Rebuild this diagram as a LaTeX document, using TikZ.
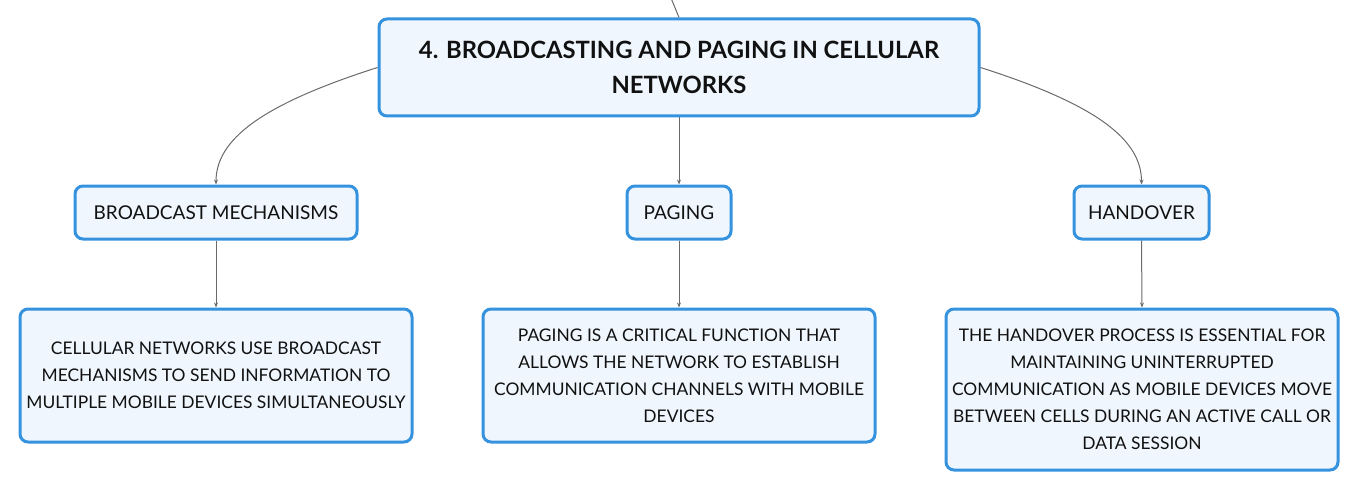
\documentclass[tikz,border=0pt]{standalone}
\usepackage{fontspec}
\setmainfont{Lato}
\usetikzlibrary{arrows.meta}
\definecolor{boxblue}{HTML}{3592DE}
\definecolor{boxfill}{HTML}{EFF6FD}
\definecolor{linkgray}{HTML}{6A6A6A}
\definecolor{txt}{HTML}{111111}
\tikzset{
  box/.style={draw=boxblue, line width=3pt, fill=boxfill, rounded corners=8pt,
    align=center, text=txt, inner sep=0pt, font=\fontsize{17.4}{27}\selectfont},
  midbox/.style={box, font=\fontsize{19}{27}\selectfont},
  rootbox/.style={box, font=\fontsize{23.8}{35}\selectfont\bfseries},
  link/.style={draw=linkgray, line width=1pt},
  arrowlink/.style={link, -{Stealth[length=5pt,width=4pt]}}
}
\begin{document}
\begin{tikzpicture}[x=1pt,y=-1pt]
\useasboundingbox (0,0) rectangle (1359,492);
\node[rootbox, minimum width=600pt, minimum height=97pt] (root) at (679,67.5)
  {4. BROADCASTING AND PAGING IN CELLULAR\\NETWORKS};
\node[midbox, minimum width=282pt, minimum height=53pt] (bm) at (216,212.5) {BROADCAST MECHANISMS};
\node[midbox, minimum width=104pt, minimum height=53pt] (pg) at (679,212.5) {PAGING};
\node[midbox, minimum width=135pt, minimum height=53pt] (ho) at (1141.5,212.5) {HANDOVER};
\node[box, minimum width=392pt, minimum height=133pt] (l1) at (216,375.5)
  {CELLULAR NETWORKS USE BROADCAST\\MECHANISMS TO SEND INFORMATION TO\\MULTIPLE MOBILE DEVICES SIMULTANEOUSLY};
\node[box, minimum width=392pt, minimum height=133pt] (l2) at (679,375.5)
  {PAGING IS A CRITICAL FUNCTION THAT\\ALLOWS THE NETWORK TO ESTABLISH\\COMMUNICATION CHANNELS WITH MOBILE\\DEVICES};
\node[box, minimum width=392pt, minimum height=161pt] (l3) at (1142,389.5)
  {THE HANDOVER PROCESS IS ESSENTIAL FOR\\MAINTAINING UNINTERRUPTED\\COMMUNICATION AS MOBILE DEVICES MOVE\\BETWEEN CELLS DURING AN ACTIVE CALL OR\\DATA SESSION};
\coordinate (top) at (671,-2);
\draw[link] (top) .. controls (675,8) .. (root.north);
\draw[arrowlink] (root.west) .. controls (260,105) and (216,140) .. (bm.north);
\draw[arrowlink] (root.south) -- (pg.north);
\draw[arrowlink] (root.east) .. controls (1098,105) and (1141.5,140) .. (ho.north);
\draw[arrowlink] (bm.south) -- (l1.north);
\draw[arrowlink] (pg.south) -- (l2.north);
\draw[arrowlink] (ho.south) -- (l3.north);
\end{tikzpicture}
\end{document}
